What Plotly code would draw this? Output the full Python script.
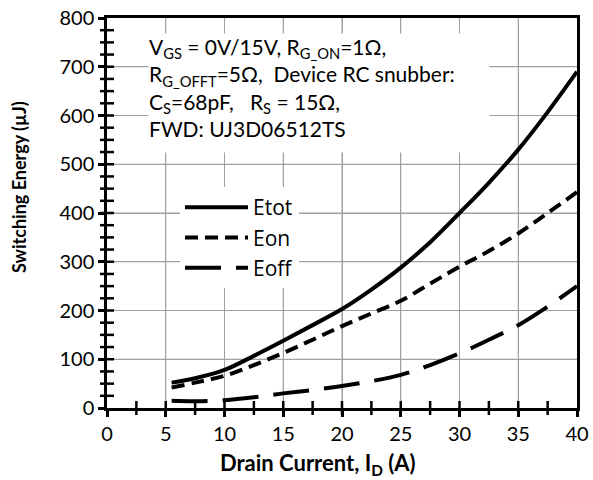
import plotly.graph_objects as go

current = [5.5, 7.5, 10, 12.5, 15, 17.5, 20, 22.5, 25, 27.5, 30, 32.5, 35, 37.5, 40]
etot = [52, 61, 78, 107, 138, 170, 203, 243, 288, 340, 400, 462, 530, 607, 690]
eon = [42, 52, 66, 88, 113, 140, 168, 194, 220, 255, 290, 322, 358, 400, 443]
eoff = [15, 14, 16, 22, 30, 37, 45, 55, 68, 88, 112, 140, 170, 208, 250]

x_ticks = [0, 5, 10, 15, 20, 25, 30, 35, 40]
y_ticks = [0, 100, 200, 300, 400, 500, 600, 700, 800]
x_minor_step = 2.5
y_minor_step = 25

xr = [x_ticks[0], x_ticks[-1]]
yr = [y_ticks[0], y_ticks[-1]]

fig = go.Figure()

# grid lines at the major ticks, drawn as a line trace through the axes
gx, gy = [], []
for xv in x_ticks[1:-1]:
    gx += [xv, xv, None]
    gy += [yr[0], yr[1], None]
for yv in y_ticks[1:-1]:
    gx += [xr[0], xr[1], None]
    gy += [yv, yv, None]
fig.add_trace(go.Scatter(x=gx, y=gy, mode="lines", line=dict(color="#a0a0a0", width=1),
                         showlegend=False, hoverinfo="skip", connectgaps=False))

fig.add_trace(go.Scatter(x=current, y=etot, name="Etot", mode="lines",
                         line=dict(color="black", width=4, shape="spline")))
fig.add_trace(go.Scatter(x=current, y=eon, name="Eon", mode="lines",
                         line=dict(color="black", width=4, shape="spline", dash="13px,7px")))
fig.add_trace(go.Scatter(x=current, y=eoff, name="Eoff", mode="lines",
                         line=dict(color="black", width=4, shape="spline", dash="36px,15px")))

# minor ticks as tick-shaped markers on the axes
n_x = int(round((xr[1] - xr[0]) / x_minor_step))
n_y = int(round((yr[1] - yr[0]) / y_minor_step))
mx = [xr[0] + i * x_minor_step for i in range(1, n_x)]
my = [yr[0] + i * y_minor_step for i in range(1, n_y)]
fig.add_trace(go.Scatter(x=mx, y=[yr[0]] * len(mx), mode="markers", cliponaxis=False,
                         marker=dict(symbol="line-ns", size=10, line=dict(color="black", width=2.5)),
                         showlegend=False, hoverinfo="skip"))
fig.add_trace(go.Scatter(x=[xr[0]] * len(my), y=my, mode="markers", cliponaxis=False,
                         marker=dict(symbol="line-ew", size=10, line=dict(color="black", width=2.5)),
                         showlegend=False, hoverinfo="skip"))

axis_common = dict(showline=True, linecolor="black", linewidth=2.5, mirror=True,
                   showgrid=True, gridcolor="#a0a0a0", gridwidth=1, zeroline=False,
                   ticks="outside", ticklen=6, tickwidth=2.5, tickcolor="black",
                   automargin=False, layer="above traces",
                   tickfont=dict(family="Lato", size=20, color="black"))

fig.update_layout(
    template="none",
    xaxis=dict(range=xr, tickmode="array", tickvals=x_ticks, **axis_common),
    yaxis=dict(range=yr, tickmode="array", tickvals=y_ticks, **axis_common),
)

# axis titles (offset from plot centre as in the reference)
fig.add_annotation(xref="paper", yref="paper", x=(318 - 107) / 470, y=(408 - 464) / 390,
                   xanchor="center", yanchor="middle", showarrow=False,
                   text="<b>Drain Current, I<sub>D</sub> (A)</b>",
                   font=dict(family="Lato", size=22, color="black"))
fig.add_annotation(xref="paper", yref="paper", x=(19 - 107) / 470, y=(408 - 187) / 390,
                   xanchor="center", yanchor="middle", showarrow=False, textangle=-90,
                   text="<b>Switching Energy (µJ)</b>",
                   font=dict(family="Lato", size=18, color="black"))

fig.add_annotation(
    xref="paper", yref="paper", x=(148 - 107) / 470, y=(408 - 33) / 390,
    xanchor="left", yanchor="top", align="left", showarrow=False,
    text=("V<sub>GS</sub> = 0V/15V, R<sub>G_ON</sub>=1Ω,<br>"
          "R<sub>G_OFFT</sub>=5Ω,  Device RC snubber:<br>"
          "C<sub>S</sub>=68pF,   R<sub>S</sub> = 15Ω,<br>"
          "FWD: UJ3D06512TS"),
    font=dict(family="Lato", size=21, color="black"),
    bgcolor="white", borderpad=0, width=340, height=118, valign="top")

fig.update_layout(
    width=593, height=480,
    margin=dict(l=107, r=16, t=18, b=72),
    plot_bgcolor="white", paper_bgcolor="white",
    showlegend=True,
    legend=dict(x=(180 - 107) / 470, y=(408 - 187) / 390, xanchor="left", yanchor="top",
                bgcolor="white", font=dict(family="Open Sans", size=21, color="black"),
                itemwidth=63, tracegroupgap=0),
)

fig.write_html("out.html", config={"displayModeBar": False},
               post_script="document.body.style.margin='0';")
